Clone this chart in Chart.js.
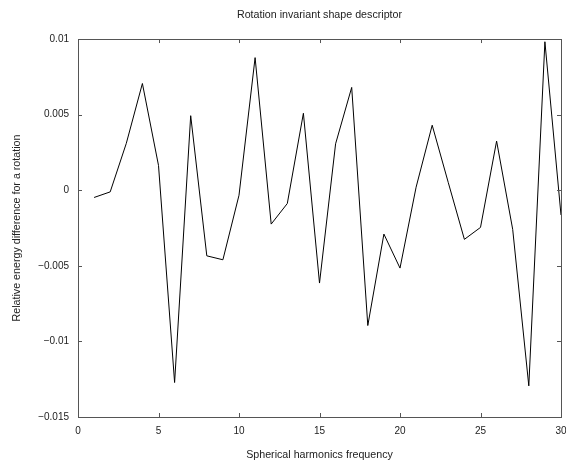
<!DOCTYPE html>
<html>
<head>
<meta charset="utf-8">
<script src="https://cdn.jsdelivr.net/npm/chart.js@4.4.0/dist/chart.umd.min.js"></script>
<style>
  body { margin: 0; background: #fff; }
  #wrap { width: 566px; height: 462px; }
</style>
</head>
<body>
<div id="wrap"><canvas id="grafica_descriptor" width="566" height="462"></canvas></div>
<script>
/*-----Datos-----*/
const frecuencias = [1, 2, 3, 4, 5, 6, 7, 8, 9, 10, 11, 12, 13, 14, 15,
                     16, 17, 18, 19, 20, 21, 22, 23, 24, 25, 26, 27, 28, 29, 30];
const diferencias = [-0.00048, -0.00011, 0.0031, 0.00706, 0.00164, -0.01272, 0.00493, -0.00434,
                     -0.0046, -0.00033, 0.00877, -0.00224, -0.00088, 0.00509, -0.00614, 0.00307,
                     0.0068, -0.00895, -0.0029, -0.00515, 0.0002, 0.0043, 0.0005, -0.00325,
                     -0.00246, 0.00325, -0.00259, -0.01294, 0.00982, -0.00164];
const ticks_x = [0, 5, 10, 15, 20, 25, 30];
const ticks_y = [-0.015, -0.01, -0.005, 0, 0.005, 0.01];

const fuente = { family: 'Liberation Sans, Arial, sans-serif', size: 10 };
const fuente_titulo = { family: 'Liberation Sans, Arial, sans-serif', size: 10.7, weight: 'normal' };

/*-----Marco con marcas hacia dentro (estilo gnuplot)-----*/
const marco = {
  id: 'marco',
  afterDraw(chart) {
    const ctx = chart.ctx;
    const a = chart.chartArea;
    const sx = chart.scales.x, sy = chart.scales.y;
    ctx.save();
    ctx.strokeStyle = '#555';
    ctx.lineWidth = 1;
    ctx.strokeRect(Math.round(a.left) + 0.5, Math.round(a.top) + 0.5,
                   Math.round(a.right - a.left), Math.round(a.bottom - a.top));
    ctx.beginPath();
    ticks_x.forEach(v => {
      const px = Math.round(sx.getPixelForValue(v)) + 0.5;
      ctx.moveTo(px, a.bottom); ctx.lineTo(px, a.bottom - 4);
      ctx.moveTo(px, a.top); ctx.lineTo(px, a.top + 4);
    });
    ticks_y.forEach(v => {
      const py = Math.round(sy.getPixelForValue(v)) + 0.5;
      ctx.moveTo(a.left, py); ctx.lineTo(a.left + 4, py);
      ctx.moveTo(a.right, py); ctx.lineTo(a.right - 4, py);
    });
    ctx.stroke();
    ctx.restore();
  }
};

const grafica_descriptor = document.getElementById('grafica_descriptor');

new Chart(grafica_descriptor, {
  type: 'line',
  data: {
    datasets: [{
      label: 'Relative energy difference',
      data: frecuencias.map((f, i) => ({ x: f, y: diferencias[i] })),
      borderColor: '#000',
      borderWidth: 1,
      pointRadius: 0,
      tension: 0,
      fill: false
    }]
  },
  options: {
    responsive: false,
    animation: false,
    layout: { padding: { left: 0, right: 5, top: 0, bottom: 0 } },
    scales: {
      x: {
        type: 'linear',
        min: 0,
        max: 30,
        afterBuildTicks: s => { s.ticks = ticks_x.map(v => ({ value: v })); },
        afterFit: s => { s.height = 45; s.paddingLeft = 0; s.paddingRight = 0; },
        grid: { display: false, drawTicks: false },
        border: { display: false },
        ticks: { color: '#222', font: fuente, padding: 8, maxRotation: 0 },
        title: {
          display: true,
          text: 'Spherical harmonics frequency',
          color: '#222',
          font: fuente_titulo,
          padding: { top: 0, bottom: 0.6 }
        }
      },
      y: {
        min: -0.015,
        max: 0.01,
        afterBuildTicks: s => { s.ticks = ticks_y.map(v => ({ value: v })); },
        afterFit: s => { s.width = 78; s.paddingTop = 0; s.paddingBottom = 0; },
        grid: { display: false, drawTicks: false },
        border: { display: false },
        ticks: {
          color: '#222',
          font: fuente,
          padding: 9,
          callback: v => parseFloat(v.toFixed(4)).toString().replace('-', '\u2212')
        },
        title: {
          display: true,
          text: 'Relative energy difference for a rotation',
          color: '#222',
          font: fuente_titulo,
          padding: { top: 10.6, bottom: 0 }
        }
      }
    },
    plugins: {
      legend: { display: false },
      tooltip: { enabled: false },
      title: {
        display: true,
        fullSize: false,
        text: 'Rotation invariant shape descriptor',
        color: '#222',
        font: fuente_titulo,
        padding: { top: 8.6, bottom: 17.6 }
      }
    }
  },
  plugins: [marco]
});
</script>
</body>
</html>
